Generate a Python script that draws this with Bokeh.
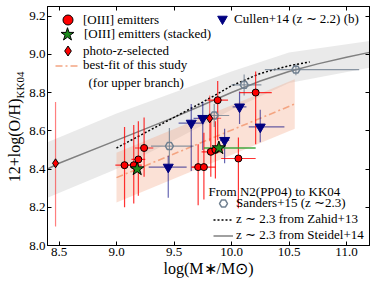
import numpy as np
from bokeh.plotting import figure
from bokeh.models import (Range1d, LinearAxis, Legend, LegendItem, Label, Title,
                          FixedTicker, NumeralTickFormatter)
from bokeh.embed import file_html
from bokeh.resources import INLINE

# ---------------- data ----------------
x_ticks = [8.5, 9.0, 9.5, 10.0, 10.5, 11.0]
y_ticks = [8.0, 8.2, 8.4, 8.6, 8.8, 9.0, 9.2]

# [OIII] emitters (individual)
o3_x = [9.07, 9.15, 9.19, 9.24, 9.71, 9.76, 9.82, 9.86, 10.06, 9.88, 10.21]
o3_y = [8.42, 8.42, 8.45, 8.51, 8.41, 8.41, 8.49, 8.50, 8.455, 8.76, 8.80]
o3_xerr = [0.08, 0.07, 0.06, 0.08, 0.06, 0.10, 0.08, 0.07, 0.15, 0.09, 0.14]
o3_ylo = [0.22, 0.20, 0.19, 0.15, 0.20, 0.17, 0.13, 0.15, 0.26, 0.21, 0.27]
o3_yhi = [0.20, 0.21, 0.20, 0.16, 0.12, 0.18, 0.20, 0.15, 0.11, 0.10, 0.11]

# photo-z selected
pz_x = [8.47, 9.81]
pz_y = [8.43, 8.665]
pz_xerr = [0.0, 0.10]
pz_ylo = [0.33, 0.12]
pz_yhi = [0.32, 0.12]

# [OIII] emitters (stacked)
stk_x = [9.18, 9.89]
stk_y = [8.40, 8.51]
stk_xlo = [0.0, 0.13]
stk_xhi = [0.0, 0.32]

# Cullen+14
cu_x = [9.45, 9.65, 9.75, 10.07, 10.25, 9.94]
cu_y = [8.41, 8.64, 8.665, 8.725, 8.62, 8.55]
cu_xlo = [0.17, 0.11, 0.08, 0.06, 0.10, 0.04]
cu_xhi = [0.16, 0.10, 0.08, 0.06, 0.21, 0.04]
cu_ylo = [0.16, 0.25, 0.165, 0.09, 0.08, 0.12]
cu_yhi = [0.06, 0.10, 0.085, 0.08, 0.09, 0.06]

# Sanders+15
sa_x = [9.46, 9.85, 10.11, 10.56]
sa_y = [8.52, 8.68, 8.84, 8.92]
sa_xlo = [0.16, 0.14, 0.11, 0.27]
sa_xhi = [0.21, 0.13, 0.15, 0.55]
sa_yerr = [0.095, 0.06, 0.055, 0.03]

# Zahid+13 relation (z~2.3)
za_x = [9.0, 9.25, 9.5, 9.75, 10.0, 10.25, 10.5, 10.68]
za_y = [8.51, 8.59, 8.67, 8.75, 8.835, 8.90, 8.94, 8.96]

# Steidel+14 relation (z~2.3) and its scatter
st_x = [8.4, 8.5, 9.0, 9.5, 9.75, 10.0, 10.25, 10.5, 10.75, 11.0, 11.2]
st_y = [8.40, 8.43, 8.55, 8.67, 8.735, 8.80, 8.86, 8.91, 8.95, 8.985, 9.01]
band_x = [8.4, 9.0, 9.5, 10.0, 10.5, 11.2]
band_lo = [8.25, 8.40, 8.55, 8.71, 8.85, 8.93]
band_hi = [8.54, 8.69, 8.80, 8.91, 9.01, 9.07]

# best fit of this study (upper branch)
fit_x = [9.0, 10.55]
fit_y = [8.355, 8.74]
fit_lo = [8.225, 8.61]
fit_hi = [8.485, 8.87]

# ---------------- figure ----------------
SERIF = "Liberation Serif"
p = figure(width=374, height=287, output_backend="svg", toolbar_location=None,
           x_range=Range1d(8.4, 11.2), y_range=Range1d(8.0, 9.25),
           min_border_left=47, min_border_right=5, min_border_top=6,
           min_border_bottom=42)
p.grid.visible = False
p.outline_line_color = "black"


def style_axis(ax, ticks, labels=True):
    ax.ticker = FixedTicker(ticks=ticks)
    ax.major_tick_in = 4
    ax.major_tick_out = 0
    ax.minor_tick_line_color = None
    ax.axis_line_color = "black"
    ax.major_tick_line_color = "black"
    if labels:
        ax.formatter = NumeralTickFormatter(format="0.0")
        ax.major_label_text_font = SERIF
        ax.major_label_text_font_size = "13px"
        ax.major_label_text_color = "black"
    else:
        ax.major_label_text_font_size = "0px"
        ax.major_label_text_color = None
        ax.major_label_standoff = 0


style_axis(p.xaxis[0], x_ticks)
p.xaxis[0].major_label_standoff = 2
style_axis(p.yaxis[0], y_ticks)
p.yaxis[0].major_label_standoff = 2
ax_r = LinearAxis()
style_axis(ax_r, y_ticks, labels=False)
p.add_layout(ax_r, "right")
ax_t = LinearAxis()
style_axis(ax_t, x_ticks, labels=False)
p.add_layout(ax_t, "above")

# axis titles (outside the frame)
p.add_layout(Title(text="KK04", align="left", offset=147, vertical_align="top",
                   standoff=-2, text_font=SERIF, text_font_size="11px",
                   text_font_style="normal", text_color="black"), "left")
p.add_layout(Title(text="12+log(O/H)", align="right", offset=92,
                   vertical_align="bottom", standoff=-17, text_font=SERIF,
                   text_font_size="16px", text_font_style="normal",
                   text_color="black"), "left")
p.add_layout(Title(text="log(M\u2217/M\u2299)", align="center", vertical_align="top",
                   standoff=2, text_font=SERIF, text_font_size="16px",
                   text_font_style="normal", text_color="black"), "below")

# bands
p.varea(x=band_x, y1=band_lo, y2=band_hi, fill_color="gray", fill_alpha=0.17)
p.varea(x=fit_x, y1=fit_lo, y2=fit_hi, fill_color="#f4a582", fill_alpha=0.33)

# lines
r_st = p.line(st_x, st_y, line_color="#808080", line_width=1.5)
r_za = p.line(za_x, za_y, line_color="black", line_width=1.5, line_dash="2 2")
r_fit = p.line(fit_x, fit_y, line_color="#f4a582", line_width=1.6, line_dash="7 3 2 3")


def a(v):
    return np.asarray(v, dtype=float)

# error bars
p.segment(a(sa_x) - a(sa_xlo), a(sa_y), a(sa_x) + a(sa_xhi), a(sa_y),
          line_color="#708090", line_alpha=0.8, line_width=1.2)
p.segment(a(sa_x), a(sa_y) - a(sa_yerr), a(sa_x), a(sa_y) + a(sa_yerr),
          line_color="#708090", line_alpha=0.8, line_width=1.2)
p.segment(a(cu_x) - a(cu_xlo), a(cu_y), a(cu_x) + a(cu_xhi), a(cu_y),
          line_color="#000080", line_alpha=0.6, line_width=1.2)
p.segment(a(cu_x), a(cu_y) - a(cu_ylo), a(cu_x), a(cu_y) + a(cu_yhi),
          line_color="#000080", line_alpha=0.6, line_width=1.2)
p.segment(a(pz_x) - a(pz_xerr), a(pz_y), a(pz_x) + a(pz_xerr), a(pz_y),
          line_color="red", line_alpha=0.5, line_width=1.2)
p.segment(a(pz_x), a(pz_y) - a(pz_ylo), a(pz_x), a(pz_y) + a(pz_yhi),
          line_color="red", line_alpha=0.5, line_width=1.2)
p.segment(a(o3_x) - a(o3_xerr), a(o3_y), a(o3_x) + a(o3_xerr), a(o3_y),
          line_color="red", line_alpha=0.8, line_width=1.2)
p.segment(a(o3_x), a(o3_y) - a(o3_ylo), a(o3_x), a(o3_y) + a(o3_yhi),
          line_color="red", line_alpha=0.8, line_width=1.2)
p.segment(a(stk_x) - a(stk_xlo), a(stk_y), a(stk_x) + a(stk_xhi), a(stk_y),
          line_color="#2ca02c", line_alpha=0.9, line_width=1.6)

# markers
r_sa = p.scatter(sa_x, sa_y, marker="hex", size=8, fill_color=None,
                 line_color="#708090", line_width=1.5)
r_cu = p.scatter(cu_x, cu_y, marker="inverted_triangle", size=10,
                 fill_color="#000080", line_color="#000080")
r_o3 = p.scatter(o3_x, o3_y, marker="circle", size=7, fill_color="red",
                 line_color="black", line_width=1)
r_pz = p.scatter(pz_x, pz_y, marker="diamond", size=9, fill_color="red",
                 line_color="black", line_width=1)
r_stk = p.scatter(stk_x, stk_y, marker="star", size=14, fill_color="#1e8c1e",
                  line_color="black", line_width=1)

# ---------------- legends (one entry each, positioned in screen px) ----------------
def entry(label, rend, loc, gw, gh, standoff):
    lg = Legend(items=[LegendItem(label=label, renderers=[rend])], location=loc,
                glyph_width=gw, glyph_height=gh, spacing=0, padding=0, margin=0,
                label_standoff=standoff, label_text_font=SERIF,
                label_text_font_size="13px", label_text_color="black",
                label_height=10, background_fill_alpha=0, border_line_alpha=0)
    p.add_layout(lg, "center")

entry("[OIII] emitters", r_o3, (8, 213), 25, 25, 3)
entry("[OIII] emitters (stacked)", r_stk, (3, 194), 34, 34, 0)
entry("photo-z-selected", r_pz, (8, 182), 25, 25, 3)
entry("best-fit of this study", r_fit, (8, 172), 25, 15, 3)
entry("Cullen+14 (z \u223c 2.2) (b)", r_cu, (163, 214), 24, 25, 0)
entry("Sanders+15 (z \u223c2.3)", r_sa, (166, 32), 20, 20, 3)
entry("z \u223c 2.3 from Zahid+13", r_za, (166, 18), 20, 15, 3)
entry("z \u223c 2.3 from Steidel+14", r_st, (166, 2), 20, 15, 3)


def lab(text, x, y, size):
    return Label(x=x, y=y, x_units="screen", y_units="screen", text=text,
                 text_font=SERIF, text_font_size=size, text_font_style="normal",
                 text_align="left", text_baseline="alphabetic", text_color="black")

p.add_layout(lab("(for upper branch)", 41, 163, "13px"))
p.add_layout(lab("From N2(PP04) to KK04", 161, 54, "13px"))

open("out.html", "w").write(file_html(p, INLINE))
